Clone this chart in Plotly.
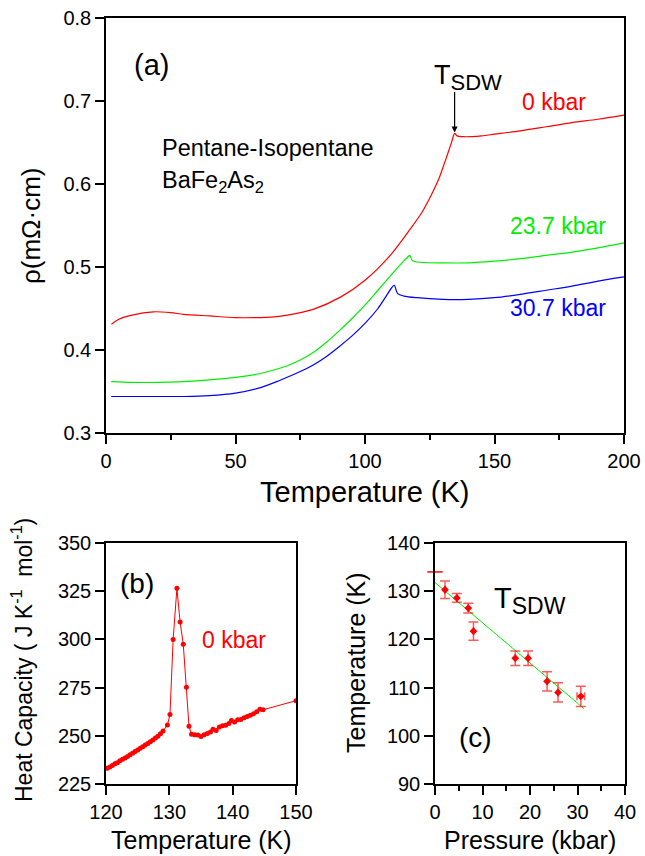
import plotly.graph_objects as go

# ---------------- data ----------------
# Panel (a): resistivity vs temperature
T_0kbar = [2.1, 5, 10, 18.3, 25, 30, 40, 50, 57.5, 65, 70, 80, 90.7, 100, 110, 117.3,
           122, 125.3, 128.6, 130, 132, 133.5, 134.6, 135.5, 138, 145, 150, 160, 170, 180, 190, 200]
rho_0kbar = [0.431, 0.437, 0.442, 0.446, 0.445, 0.443, 0.441, 0.439, 0.439, 0.440, 0.442, 0.449,
             0.464, 0.484, 0.515, 0.545, 0.566, 0.585, 0.607, 0.619, 0.637, 0.651, 0.661, 0.658,
             0.657, 0.658, 0.660, 0.664, 0.669, 0.674, 0.678, 0.683]

T_237kbar = [2, 10, 20, 30, 40, 50, 60, 70, 75, 80, 85, 90, 95, 100, 105, 110, 114, 116.5, 117.3, 118.2,
             120, 130, 140, 150, 160, 170, 180, 190, 200]
rho_237kbar = [0.362, 0.361, 0.361, 0.362, 0.364, 0.367, 0.372, 0.381, 0.388, 0.397, 0.409, 0.423,
               0.438, 0.454, 0.472, 0.490, 0.504, 0.512, 0.514, 0.508, 0.506, 0.505, 0.505, 0.507,
               0.510, 0.514, 0.518, 0.523, 0.529]

T_307kbar = [2, 20, 30, 40, 50, 60, 66.8, 75, 80, 85, 90, 95, 100, 105, 108, 110.3, 111.3, 112.6, 115,
             120, 130, 140, 150, 160, 170, 180, 190, 200]
rho_307kbar = [0.344, 0.344, 0.344, 0.345, 0.348, 0.355, 0.363, 0.374, 0.382, 0.392, 0.404, 0.417,
               0.432, 0.450, 0.464, 0.475, 0.478, 0.468, 0.465, 0.463, 0.461, 0.461, 0.463, 0.467,
               0.472, 0.477, 0.483, 0.488]

# Panel (b): heat capacity
T_cp = [120.2, 120.6, 121.0, 121.4, 121.8, 122.2, 122.6, 123.0, 123.4, 123.8, 124.2, 124.6, 125.0,
        125.4, 125.8, 126.2, 126.6, 127.0, 127.4, 127.8, 128.2, 128.6, 129.0,
        129.7, 130.1, 130.6, 131.2, 131.7, 132.2, 132.7, 133.1, 133.5,
        134.0, 134.5, 135.0, 135.5, 136.0, 136.5, 136.9, 137.4, 137.9, 138.4, 138.9, 139.4, 139.8,
        140.3, 140.8, 141.3, 141.8, 142.3, 142.8, 143.3, 143.8, 144.3, 144.8, 150.0]
Cp = [233.2, 233.8, 234.6, 235.5, 236.0, 237.0, 237.8, 238.5, 239.3, 240.2, 241.0, 241.8, 242.6,
      243.5, 244.3, 245.2, 246.0, 246.9, 247.8, 248.8, 249.8, 251.0, 252.5,
      255.6, 261.0, 300.0, 326.5, 309.0, 297.5, 275.2, 255.0, 250.8,
      250.5, 250.4, 249.6, 250.5, 251.2, 252.0, 253.4, 252.8, 254.6, 255.2, 255.5, 256.4, 258.0,
      257.2, 258.3, 258.4, 259.4, 260.0, 260.6, 261.4, 262.5, 263.8, 263.5, 268.2]

# Panel (c): T_SDW vs pressure
P_sdw = [2.1, 4.6, 7.0, 8.1, 16.9, 19.6, 23.6, 25.9, 30.7]
T_sdw = [130.3, 128.6, 126.5, 121.7, 116.1, 116.1, 111.3, 109.0, 108.2]
T_sdw_err = [1.8, 0.9, 1.0, 1.9, 1.5, 1.5, 2.0, 2.0, 2.1]
P_sdw_err = [0, 0, 0, 0, 0, 0, 0, 0, 0.8]
P_zero = [0.0]
T_zero = [134.0]
P_fit = [0.0, 31.4]
T_fit = [131.8, 105.6]

# ---------------- figure ----------------
W, H = 645, 856
FONT = "Liberation Sans, Arial, Helvetica, sans-serif"


def fx(x):
    return x / W


def fy(y):
    return 1 - y / H


RED, GREEN, BLUE = "#ff0000", "#00ee00", "#0000ff"

fig = go.Figure()

spl = dict(shape="spline", smoothing=0.8)
fig.add_trace(go.Scatter(x=T_0kbar, y=rho_0kbar, mode="lines", line=dict(color=RED, width=1.2, **spl),
                         xaxis="x", yaxis="y"))
fig.add_trace(go.Scatter(x=T_237kbar, y=rho_237kbar, mode="lines", line=dict(color=GREEN, width=1.2, **spl),
                         xaxis="x", yaxis="y"))
fig.add_trace(go.Scatter(x=T_307kbar, y=rho_307kbar, mode="lines", line=dict(color=BLUE, width=1.2, **spl),
                         xaxis="x", yaxis="y"))

fig.add_trace(go.Scatter(x=T_cp, y=Cp, mode="lines+markers", line=dict(color=RED, width=1),
                         marker=dict(color=RED, size=5), xaxis="x2", yaxis="y2"))

fig.add_trace(go.Scatter(x=P_fit, y=T_fit, mode="lines", line=dict(color=GREEN, width=1),
                         xaxis="x3", yaxis="y3"))
fig.add_trace(go.Scatter(x=P_sdw, y=T_sdw, mode="markers",
                         marker=dict(color=RED, size=6, symbol="diamond"),
                         error_y=dict(type="data", array=T_sdw_err, color="rgba(255,0,0,0.65)", thickness=1.5, width=5),
                         error_x=dict(type="data", array=P_sdw_err, color="rgba(255,0,0,0.65)", thickness=1.5, width=4),
                         xaxis="x3", yaxis="y3", cliponaxis=False))
fig.add_trace(go.Scatter(x=P_zero, y=T_zero, mode="markers",
                         marker=dict(color=RED, size=11, symbol="line-ew", line=dict(color=RED, width=1.5)),
                         xaxis="x3", yaxis="y3", cliponaxis=False))

axis_common = dict(showline=True, linecolor="black", linewidth=1.5, mirror=True, ticks="outside",
                   ticklen=9, tickwidth=1.5, tickcolor="black", showgrid=False, zeroline=False,
                   automargin=False,
                   tickfont=dict(family=FONT, size=20, color="black"))

fig.update_layout(
    template="none",
    width=W, height=H, margin=dict(l=0, r=0, t=0, b=0, pad=0),
    paper_bgcolor="white", plot_bgcolor="white", showlegend=False,
    font=dict(family=FONT, color="black"),
    xaxis=dict(domain=[fx(106), fx(624)], range=[0, 200], dtick=50, anchor="y",
               minor=dict(dtick=25, ticks="outside", ticklen=5, tickwidth=1.5, tickcolor="black"), **axis_common),
    yaxis=dict(domain=[fy(433), fy(18)], range=[0.3, 0.8], dtick=0.1, tickformat=".1f", anchor="x", **axis_common),
    xaxis2=dict(domain=[fx(106), fx(296)], range=[120, 150], dtick=10, anchor="y2", **axis_common),
    yaxis2=dict(domain=[fy(784), fy(543)], range=[225, 350], dtick=25, anchor="x2", **axis_common),
    xaxis3=dict(domain=[fx(435), fx(625)], range=[0, 40], dtick=10, anchor="y3",
                minor=dict(dtick=5, ticks="outside", ticklen=5, tickwidth=1.5, tickcolor="black"), **axis_common),
    yaxis3=dict(domain=[fy(784), fy(543)], range=[90, 140], dtick=10, anchor="x3", **axis_common),
)


def txt(x, y, text, size, color="black", angle=0, xanchor="center"):
    fig.add_annotation(x=fx(x), y=fy(y), xref="paper", yref="paper", text=text, showarrow=False,
                       font=dict(family=FONT, size=size, color=color), textangle=angle,
                       xanchor=xanchor, yanchor="middle")


def tsdw(size, subsize):
    return "T<sub><span style='font-size:%dpx'>SDW</span></sub>" % subsize


# axis titles
txt(365, 492, "Temperature (K)", 29)
txt(31, 226, "ρ(mΩ·cm)", 26, angle=-90)
txt(201, 840, "Temperature (K)", 25)
txt(22, 660, "Heat Capacity ( J K<sup>-1</sup>  mol<sup>-1</sup>)", 23, angle=-90)
txt(530, 840, "Pressure (kbar)", 25)
txt(356, 663, "Temperature (K)", 25, angle=-90)

# panel (a) labels
txt(151, 65, "(a)", 29)
txt(468, 78, tsdw(27, 22), 27)
txt(554, 102, "0 kbar", 23, RED)
txt(558, 226, "23.7 kbar", 23, GREEN)
txt(558, 308, "30.7 kbar", 23, BLUE)
txt(160, 148, "Pentane-Isopentane", 23.5, xanchor="left")
txt(160, 181, "BaFe<sub>2</sub>As<sub>2</sub>", 23.5, xanchor="left")
fig.add_annotation(x=134.6, y=0.662, xref="x", yref="y", ax=0, ay=-42, axref="pixel", ayref="pixel",
                   showarrow=True, arrowhead=2, arrowsize=1, arrowwidth=1.2, arrowcolor="black", text="")

# panel (b) labels
txt(137, 583, "(b)", 28)
txt(234, 640, "0 kbar", 23, RED)

# panel (c) labels
txt(530, 600, tsdw(29, 23), 29)
txt(475, 737, "(c)", 28)

fig.write_html("out.html", config={"displayModeBar": False},
               post_script="document.body.style.margin='0';document.body.style.padding='0';")
